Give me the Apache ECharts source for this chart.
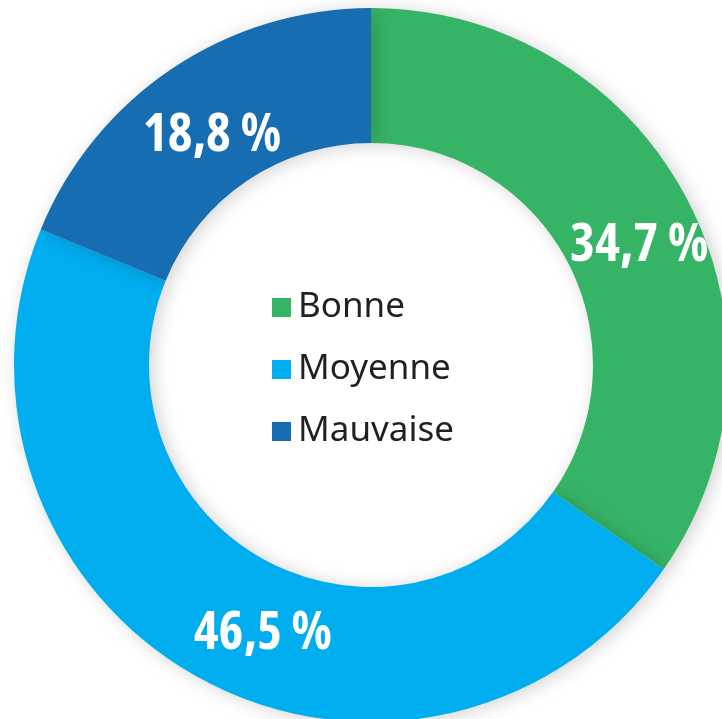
<!DOCTYPE html>
<html>
<head>
<meta charset="utf-8">
<script src="https://cdn.jsdelivr.net/npm/echarts@6/dist/echarts.min.js"></script>
<style>
  html, body { margin: 0; padding: 0; background: #ffffff; }
  #chart { width: 722px; height: 719px; }
</style>
</head>
<body>
<div id="chart"></div>
<script>
// qualité : part en %
const categories = ["Bonne", "Moyenne", "Mauvaise"];
const values = [34.7, 46.5, 18.8];
const colors = ["#36b466", "#00aeef", "#176db2"];
// petits décalages des étiquettes pour coller au visuel
const labelOffsets = [[9, 16], [32, 12], [4, 14]];

const chart = echarts.init(document.getElementById("chart"));

const seriesData = categories.map((name, i) => ({
  name,
  value: values[i],
  itemStyle: { color: colors[i] },
  label: { offset: labelOffsets[i] },
}));

const option = {
  backgroundColor: "#ffffff",
  animation: false,
  legend: {
    orient: "vertical",
    left: 267,
    top: 285,
    itemWidth: 19,
    itemHeight: 19,
    itemGap: 27,
    icon: "rect",
    textStyle: {
      fontFamily: "Noto Sans",
      fontSize: 35,
      lineHeight: 32,
      color: "#231f20",
      padding: [0, 0, 0, 2],
    },
    data: categories,
  },
  series: [
    {
      type: "pie",
      center: [371, 365],
      radius: [222, 357],
      startAngle: 90,
      clockwise: true,
      silent: true,
      itemStyle: {
        shadowBlur: 18,
        shadowColor: "rgba(0, 0, 0, 0.18)",
        shadowOffsetX: 4,
        shadowOffsetY: 2,
      },
      label: {
        show: true,
        position: "inside",
        color: "#ffffff",
        // police étroite si la variante condensée existe
        fontStyle: "extra-condensed",
        fontFamily: "'Open Sans', Roboto, sans-serif",
        fontWeight: "bold",
        fontSize: 53,
        formatter: (p) => String(p.value).replace(".", ",") + " %",
      },
      labelLine: { show: false },
      data: seriesData,
    },
  ],
};

chart.setOption(option);
</script>
</body>
</html>
